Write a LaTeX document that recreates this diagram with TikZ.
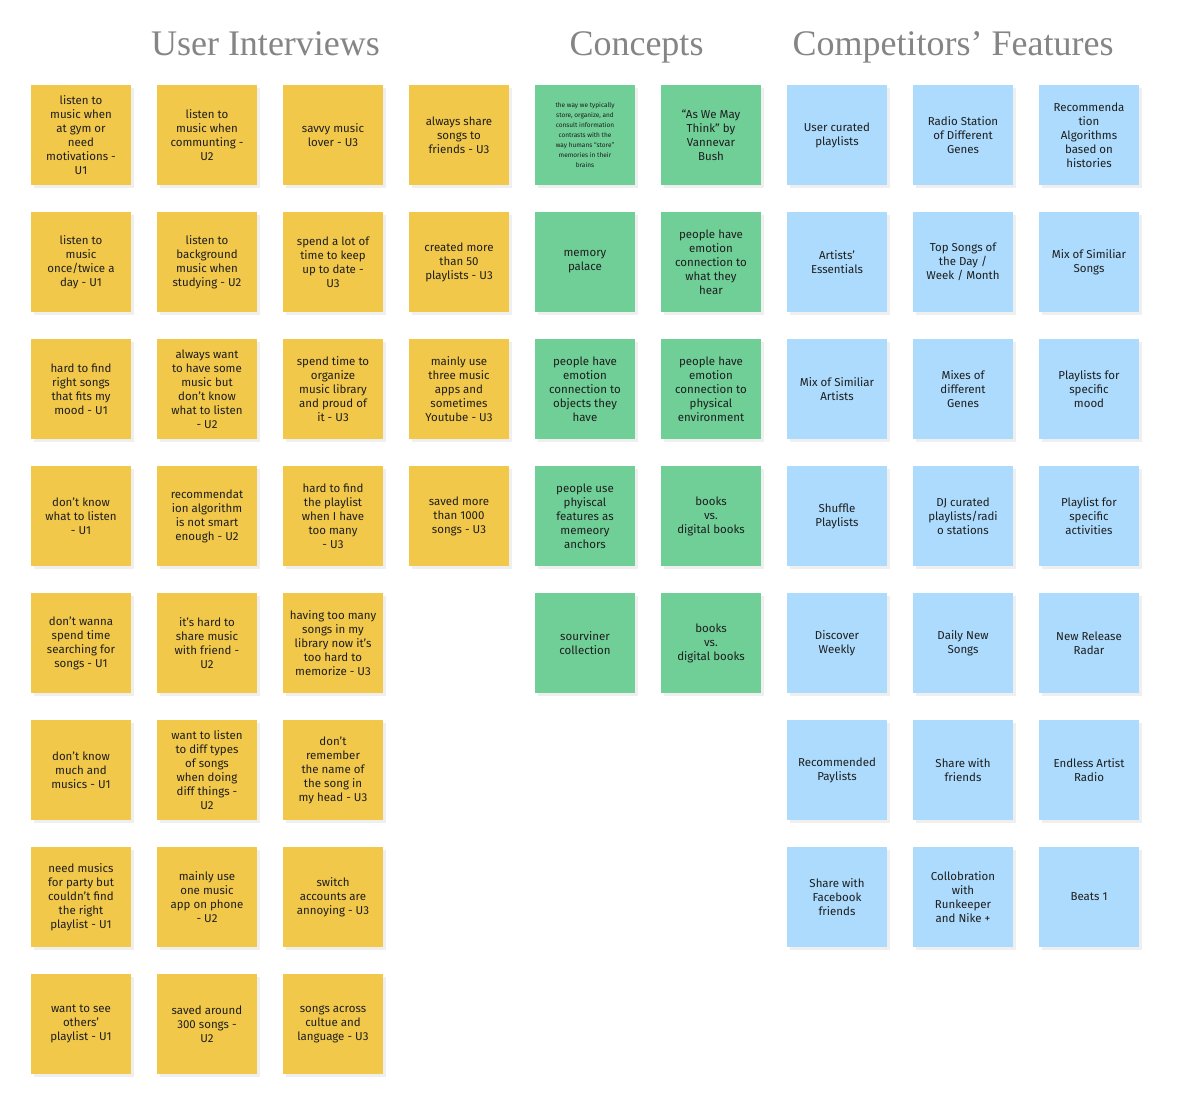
\documentclass[tikz,border=0pt]{standalone}
\usepackage{fontspec}
\setmainfont{Fira Sans}
\newfontfamily\titlefont{Liberation Serif}
\usetikzlibrary{positioning,shadows}
\definecolor{noteyellow}{HTML}{F2C84B}
\definecolor{notegreen}{HTML}{6FCF97}
\definecolor{noteblue}{HTML}{ACDBFD}
\definecolor{titlegray}{HTML}{858585}
\definecolor{notetext}{HTML}{1E1E1E}

\begin{document}
\begin{tikzpicture}[x=1pt,y=1pt,
  node distance=27pt and 26pt,
  note/.style={minimum width=100pt,minimum height=100pt,inner sep=0pt,outer sep=0pt,align=center,
    text=notetext,font=\fontsize{11.5}{14}\selectfont,
    drop shadow={shadow xshift=2.5pt,shadow yshift=-3pt,opacity=.12}},
  interview/.style={note,fill=noteyellow},
  concept/.style={note,fill=notegreen},
  feature/.style={note,fill=noteblue},
  heading/.style={anchor=base,text=titlegray,font=\titlefont\fontsize{36}{40}\selectfont}]
\useasboundingbox[fill=white] (0,0) rectangle (1180,-1100);

% headings
\node[heading] (hUI) at (265.5,-55) {User Interviews};
\node[heading] (hCO) at (636.5,-55) {Concepts};
\node[heading] (hCF) at (953,-55) {Competitors’ Features};

% user interviews
\node[interview] (a1) at (81,-135) {listen to\\music when\\at gym or\\need\\motivations -\\U1};
\node[interview] (a2) [below=of a1] {listen to\\music\\once/twice a\\day - U1};
\node[interview] (a3) [below=of a2] {hard to find\\right songs\\that fits my\\mood - U1};
\node[interview] (a4) [below=of a3] {don’t know\\what to listen\\- U1};
\node[interview] (a5) [below=of a4] {don’t wanna\\spend time\\searching for\\songs - U1};
\node[interview] (a6) [below=of a5] {don’t know\\much and\\musics - U1};
\node[interview] (a7) [below=of a6] {need musics\\for party but\\couldn’t find\\the right\\playlist - U1};
\node[interview] (a8) [below=of a7] {want to see\\others’\\playlist - U1};

\node[interview] (b1) [right=of a1] {listen to\\music when\\communting -\\U2};
\node[interview] (b2) [below=of b1] {listen to\\background\\music when\\studying - U2};
\node[interview] (b3) [below=of b2] {always want\\to have some\\music but\\don’t know\\what to listen\\- U2};
\node[interview] (b4) [below=of b3] {recommendat\\ion algorithm\\is not smart\\enough - U2};
\node[interview] (b5) [below=of b4] {it’s hard to\\share music\\with friend -\\U2};
\node[interview] (b6) [below=of b5] {want to listen\\to diff types\\of songs\\when doing\\diff things -\\U2};
\node[interview] (b7) [below=of b6] {mainly use\\one music\\app on phone\\- U2};
\node[interview] (b8) [below=of b7] {saved around\\300 songs -\\U2};

\node[interview] (c1) [right=of b1] {savvy music\\lover - U3};
\node[interview] (c2) [below=of c1] {spend a lot of\\time to keep\\up to date -\\U3};
\node[interview] (c3) [below=of c2] {spend time to\\organize\\music library\\and proud of\\it - U3};
\node[interview] (c4) [below=of c3] {hard to find\\the playlist\\when I have\\too many\\- U3};
\node[interview] (c5) [below=of c4] {having too many\\songs in my\\library now it’s\\too hard to\\memorize - U3};
\node[interview] (c6) [below=of c5] {don’t\\remember\\the name of\\the song in\\my head - U3};
\node[interview] (c7) [below=of c6] {switch\\accounts are\\annoying - U3};
\node[interview] (c8) [below=of c7] {songs across\\cultue and\\language - U3};

\node[interview] (d1) [right=of c1] {always share\\songs to\\friends - U3};
\node[interview] (d2) [below=of d1] {created more\\than 50\\playlists - U3};
\node[interview] (d3) [below=of d2] {mainly use\\three music\\apps and\\sometimes\\Youtube - U3};
\node[interview] (d4) [below=of d3] {saved more\\than 1000\\songs - U3};

% concepts
\node[concept,font=\fontsize{6.5}{10}\selectfont] (e1) [right=of d1] {the way we typically\\store, organize, and\\consult information\\contrasts with the\\way humans “store”\\memories in their\\brains};
\node[concept] (e2) [below=of e1] {memory\\palace};
\node[concept] (e3) [below=of e2] {people have\\emotion\\connection to\\objects they\\have};
\node[concept] (e4) [below=of e3] {people use\\phyiscal\\features as\\memeory\\anchors};
\node[concept] (e5) [below=of e4] {sourviner\\collection};

\node[concept] (f1) [right=of e1] {“As We May\\Think” by\\Vannevar\\Bush};
\node[concept] (f2) [below=of f1] {people have\\emotion\\connection to\\what they\\hear};
\node[concept] (f3) [below=of f2] {people have\\emotion\\connection to\\physical\\environment};
\node[concept] (f4) [below=of f3] {books\\vs.\\digital books};
\node[concept] (f5) [below=of f4] {books\\vs.\\digital books};

% competitors' features
\node[feature] (g1) [right=of f1] {User curated\\playlists};
\node[feature] (g2) [below=of g1] {Artists’\\Essentials};
\node[feature] (g3) [below=of g2] {Mix of Similiar\\Artists};
\node[feature] (g4) [below=of g3] {Shuffle\\Playlists};
\node[feature] (g5) [below=of g4] {Discover\\Weekly};
\node[feature] (g6) [below=of g5] {Recommended\\Paylists};
\node[feature] (g7) [below=of g6] {Share with\\Facebook\\friends};

\node[feature] (h1) [right=of g1] {Radio Station\\of Different\\Genes};
\node[feature] (h2) [below=of h1] {Top Songs of\\the Day /\\Week / Month};
\node[feature] (h3) [below=of h2] {Mixes of\\different\\Genes};
\node[feature] (h4) [below=of h3] {DJ curated\\playlists/radi\\o stations};
\node[feature] (h5) [below=of h4] {Daily New\\Songs};
\node[feature] (h6) [below=of h5] {Share with\\friends};
\node[feature] (h7) [below=of h6] {Collobration\\with\\Runkeeper\\and Nike +};

\node[feature] (k1) [right=of h1] {Recommenda\\tion\\Algorithms\\based on\\histories};
\node[feature] (k2) [below=of k1] {Mix of Similiar\\Songs};
\node[feature] (k3) [below=of k2] {Playlists for\\specific\\mood};
\node[feature] (k4) [below=of k3] {Playlist for\\specific\\activities};
\node[feature] (k5) [below=of k4] {New Release\\Radar};
\node[feature] (k6) [below=of k5] {Endless Artist\\Radio};
\node[feature] (k7) [below=of k6] {Beats 1};
\end{tikzpicture}
\end{document}
